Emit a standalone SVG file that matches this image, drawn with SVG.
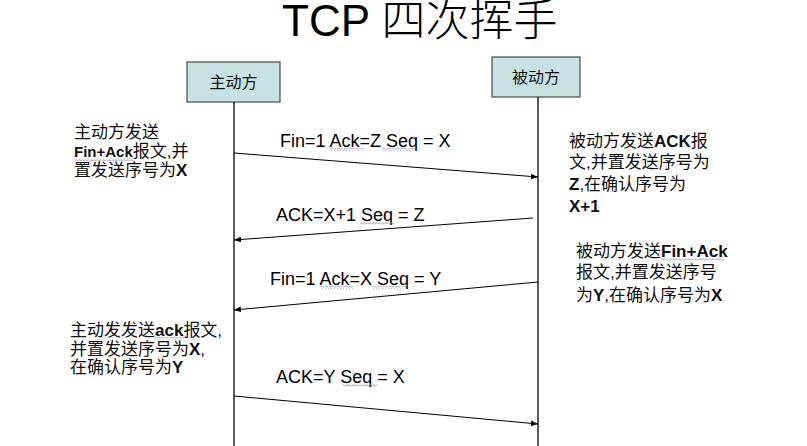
<svg xmlns="http://www.w3.org/2000/svg" width="807" height="446" viewBox="0 0 807 446">
<style>
.t{font-family:"Liberation Sans","Noto Sans CJK SC",sans-serif;fill:#000}
.title{font-size:44px}
.box{fill:#c6e2e3;stroke:#4a4a4a;stroke-width:1.2}
.bl{font-size:16px;font-family:"Noto Sans CJK SC",sans-serif;fill:#111}
.lbl{font-size:18px}
.note{font-size:17px;font-family:"Liberation Sans","Noto Sans CJK SC",sans-serif;fill:#111}
.b{font-weight:bold}
.life{stroke:#000;stroke-width:1.3}
.msg{stroke:#000;stroke-width:1;fill:none;marker-end:url(#ah)}
.sq{fill:url(#squig)}
</style>
<defs>
<marker id="ah" viewBox="0 0 10 10" refX="10" refY="5" markerWidth="7" markerHeight="7" orient="auto" markerUnits="userSpaceOnUse">
<path d="M0,1 L10,5 L0,9 z" fill="#000"/>
</marker>
<pattern id="squig" width="3" height="3" patternUnits="userSpaceOnUse">
<polyline points="0,2.5 1.5,0.5 3,2.5" fill="none" stroke="#8a8aa8" stroke-width="0.7"/>
</pattern>
</defs>
<rect width="807" height="446" fill="#fff"/>
<text class="t title" x="282" y="36">TCP <tspan font-family="Noto Sans CJK SC,sans-serif" font-weight="300">四次挥手</tspan></text>

<g id="active">
<rect class="box" x="187" y="62" width="93" height="40"/>
<text class="bl" x="233.5" y="88" text-anchor="middle">主动方</text>
</g>
<g id="passive">
<rect class="box" x="492" y="57" width="88" height="40"/>
<text class="bl" x="536" y="83" text-anchor="middle">被动方</text>
</g>

<g id="lifelines">
<line class="life" x1="234" y1="102" x2="234" y2="446"/>
<line class="life" x1="538" y1="97" x2="538" y2="446"/>
</g>

<g id="connectors">
<line class="msg" x1="234" y1="153" x2="538" y2="177"/>
<line class="msg" x1="533" y1="218" x2="234" y2="240"/>
<line class="msg" x1="538" y1="282" x2="234" y2="310"/>
<line class="msg" x1="234" y1="396" x2="538" y2="424"/>
</g>

<g id="labels">
<text class="t lbl" x="280" y="147">Fin=1 Ack=Z Seq = X</text>
<text class="t lbl" x="276" y="221">ACK=X+1 Seq = Z</text>
<text class="t lbl" x="270" y="285">Fin=1 Ack=X Seq = Y</text>
<text class="t lbl" x="276" y="383">ACK=Y Seq = X</text>
</g>

<g id="note-active-1">
<text class="note" x="74" y="138">主动方发送</text>
<text class="note" x="74" y="157"><tspan class="b" font-size="15">Fin+Ack</tspan>报文,并</text>
<text class="note" x="74" y="176">置发送序号为<tspan class="b">X</tspan></text>
</g>
<g id="note-passive-1">
<text class="note" x="569" y="147">被动方发送<tspan class="b">ACK</tspan>报</text>
<text class="note" x="569" y="168">文,并置发送序号为</text>
<text class="note" x="569" y="190"><tspan class="b">Z</tspan>,在确认序号为</text>
<text class="note" x="569" y="212"><tspan class="b">X+1</tspan></text>
</g>
<g id="note-passive-2">
<text class="note" x="576" y="257">被动方发送<tspan class="b">Fin+Ack</tspan></text>
<text class="note" x="576" y="278">报文,并置发送序号</text>
<text class="note" x="576" y="301">为<tspan class="b">Y</tspan>,在确认序号为<tspan class="b">X</tspan></text>
</g>
<g id="note-active-2">
<text class="note" x="70" y="336">主动发发送<tspan class="b">ack</tspan>报文,</text>
<text class="note" x="70" y="355">并置发送序号为<tspan class="b">X</tspan>,</text>
<text class="note" x="70" y="373">在确认序号为<tspan class="b">Y</tspan></text>
</g>

<g id="squiggles">
<rect class="sq" x="75" y="158" width="58" height="3"/>
<rect class="sq" x="661" y="258" width="63" height="3"/>
<rect class="sq" x="155" y="337" width="29" height="3"/>
<rect class="sq" x="330" y="148" width="34" height="3"/>
<rect class="sq" x="382" y="148" width="34" height="3"/>
<rect class="sq" x="360" y="222" width="34" height="3"/>
<rect class="sq" x="320" y="286" width="34" height="3"/>
<rect class="sq" x="372" y="286" width="34" height="3"/>
<rect class="sq" x="343" y="384" width="34" height="3"/>
</g>
</svg>
